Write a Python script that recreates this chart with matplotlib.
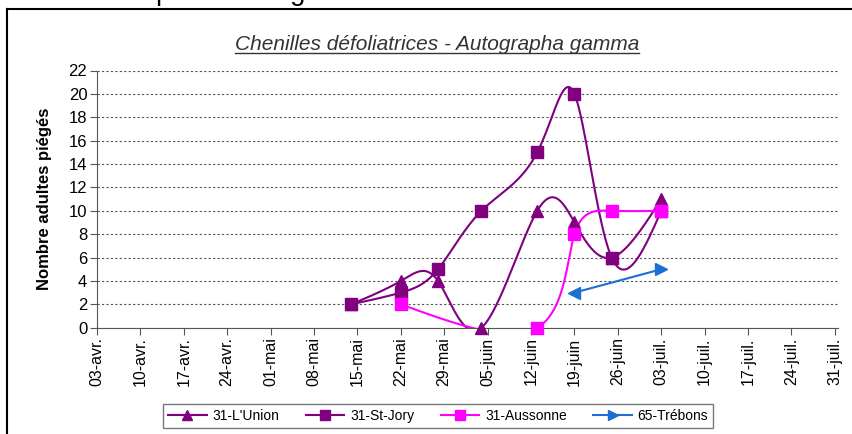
import numpy as np
import matplotlib
matplotlib.use("Agg")
import matplotlib.pyplot as plt
from matplotlib.lines import Line2D

# days counted from 03-avr.
tick_labels = ["03-avr.", "10-avr.", "17-avr.", "24-avr.", "01-mai", "08-mai", "15-mai",
               "22-mai", "29-mai", "05-juin", "12-juin", "19-juin", "26-juin", "03-juil.",
               "10-juil.", "17-juil.", "24-juil.", "31-juil."]
tick_days = [0, 7, 14, 21, 28, 35, 42, 49, 56, 63, 70, 77, 84, 91, 98, 105, 112, 119]

union_days = [41, 49, 55, 62, 71, 77, 83, 91]
union_vals = [2, 4, 4, 0, 10, 9, 6, 11]

jory_days = [41, 49, 55, 62, 71, 77, 83, 91]
jory_vals = [2, 3, 5, 10, 15, 20, 6, 10]

aussonne_days = [49, 71, 77, 83, 91]
aussonne_vals = [2, 0, 8, 10, 10]

trebons_days = [77, 91]
trebons_vals = [3, 5]

plt.rcParams['font.family'] = ['Liberation Sans', 'DejaVu Sans']

fig = plt.figure(figsize=(8.53, 4.34), dpi=100)
ax = fig.add_axes([97 / 853, 1 - 327.7 / 434, (838 - 97) / 853, (327.7 - 70.5) / 434])


def smooth(xs, ys, n=60):
    # parametric natural cubic spline, uniform parameter (like the office "smooth" lines)
    xs = np.asarray(xs, float)
    ys = np.asarray(ys, float)
    if len(xs) < 3:
        return xs, ys
    m = len(xs)
    t = np.arange(m, dtype=float)
    h = np.diff(t)

    def second(v):
        A = np.zeros((m, m))
        r = np.zeros(m)
        A[0, 0] = A[-1, -1] = 1
        for i in range(1, m - 1):
            A[i, i - 1] = h[i - 1]
            A[i, i] = 2 * (h[i - 1] + h[i])
            A[i, i + 1] = h[i]
            r[i] = 6 * ((v[i + 1] - v[i]) / h[i] - (v[i] - v[i - 1]) / h[i - 1])
        return np.linalg.solve(A, r)

    out_x, out_y = [], []
    for v, out in ((xs, out_x), (ys, out_y)):
        M = second(v)
        for i in range(m - 1):
            tt = np.linspace(t[i], t[i + 1], n)
            a = t[i + 1] - tt
            b = tt - t[i]
            s = (M[i] * a ** 3 / (6 * h[i]) + M[i + 1] * b ** 3 / (6 * h[i])
                 + (v[i] / h[i] - M[i] * h[i] / 6) * a
                 + (v[i + 1] / h[i] - M[i + 1] * h[i] / 6) * b)
            out.extend(s)
    return np.array(out_x), np.array(out_y)


series = [
    ("31-L'Union", union_days, union_vals, "#800080", "^"),
    ("31-St-Jory", jory_days, jory_vals, "#800080", "s"),
    ("31-Aussonne", aussonne_days, aussonne_vals, "#ff00ff", "s"),
    ("65-Trébons", trebons_days, trebons_vals, "#1a6fd0", ">"),
]

handles = []
for name, d, v, c, mk in series:
    sx, sy = smooth(d, v)
    ax.plot(sx, sy, color=c, lw=1.5, zorder=3)
    if mk == ">":
        # arrow-like markers: first one points back, last one forward
        ax.plot(d[:1], v[:1], ls="none", marker="<", color=c, ms=8, clip_on=False, zorder=4)
        ax.plot(d[1:], v[1:], ls="none", marker=">", color=c, ms=8, clip_on=False, zorder=4)
    else:
        ax.plot(d, v, ls="none", marker=mk, color=c, ms=8, clip_on=False, zorder=4)
    handles.append(Line2D([], [], color=c, lw=1.5, marker=mk, ms=7, label=name))

ax.set_xlim(0, 119.5)
ax.set_ylim(0, 22)
ax.set_yticks(range(0, 23, 2))
ax.set_xticks(tick_days)
ax.set_xticklabels(tick_labels, rotation=90, fontsize=11.5)
ax.tick_params(axis="y", labelsize=12, length=5, color="#555555", pad=2)
ax.tick_params(axis="x", length=5, color="#555555", pad=2)
ax.grid(axis="y", color="#555555", ls=(0, (2, 2)), lw=0.8)
ax.set_axisbelow(True)
for s in ("top", "right"):
    ax.spines[s].set_visible(False)
for s in ("left", "bottom"):
    ax.spines[s].set_color("#555555")
ax.set_ylabel("Nombre adultes piégés", fontsize=12, fontweight="bold", labelpad=12)

title = fig.text(437 / 853, 1 - 45 / 434, "Chenilles défoliatrices - Autographa gamma",
                 ha="center", va="center", fontsize=15, style="italic", color="#333333",
                 family=["Liberation Sans Narrow", "Liberation Sans", "DejaVu Sans"])
fig.canvas.draw()
bb = title.get_window_extent().transformed(fig.transFigure.inverted())
fig.add_artist(Line2D([bb.x0, bb.x1], [bb.y0 + 0.004, bb.y0 + 0.004], color="#333333", lw=1))

leg = fig.legend(handles=handles, loc="center", bbox_to_anchor=(438 / 853, 1 - 416 / 434),
                 ncol=4, fontsize=10, frameon=True, fancybox=False, handlelength=2.8,
                 handletextpad=0.4, columnspacing=1.9, borderpad=0.35)
leg.get_frame().set_edgecolor("#555555")
leg.get_frame().set_linewidth(1)

# outer frame of the chart object (left and top edges visible)
fig.add_artist(Line2D([7.5 / 853, 7.5 / 853], [0, 1 - 8.5 / 434], color="black", lw=1.5))
fig.add_artist(Line2D([7.5 / 853, 1], [1 - 8.5 / 434, 1 - 8.5 / 434], color="black", lw=1.5))

# bottom of a text line above the chart, cut by the page
fig.text(155 / 853, 1 + 0.5 / 434, "p", fontsize=20, va="baseline")
fig.text(290 / 853, 1 + 0.5 / 434, "g", fontsize=20, va="baseline")

fig.savefig("out.png", dpi=100)
